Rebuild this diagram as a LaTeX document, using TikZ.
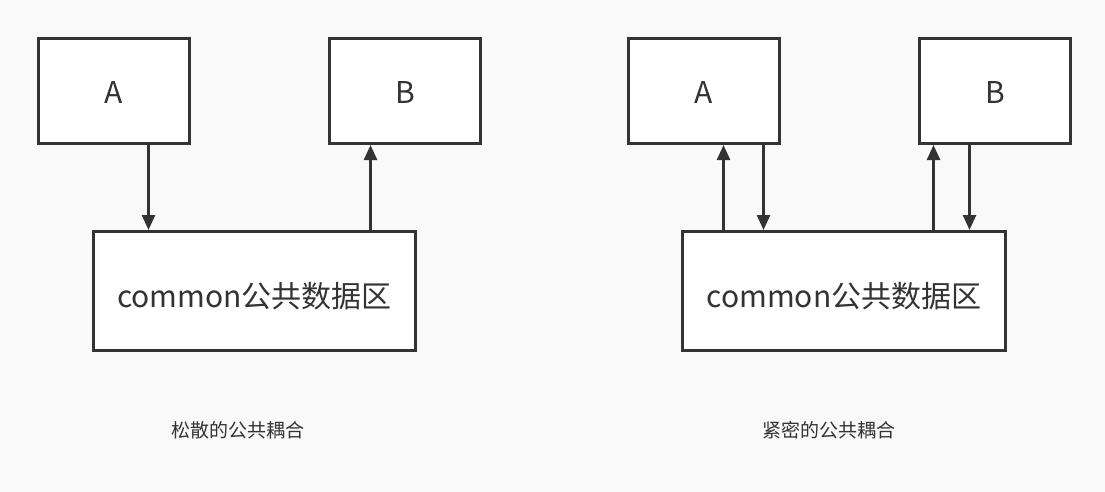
\documentclass[tikz,border=0pt]{standalone}
\usepackage{fontspec}
\setmainfont{Noto Sans CJK SC}
\usetikzlibrary{arrows.meta}
\definecolor{bgcol}{HTML}{F9F9F9}
\definecolor{ink}{HTML}{333333}
\newcommand{\lowered}[2]{\raisebox{-#1}[\height][\depth]{#2}}
\tikzset{
  box/.style={draw=ink, fill=white, line width=3pt, text=ink, font=\fontsize{30}{34}\selectfont, anchor=north west, inner sep=0pt},
  link/.style={draw=ink, line width=2.5pt, -{Triangle[length=15pt, width=13pt]}},
  caption/.style={text=ink, font=\fontsize{19}{22}\selectfont}
}
\begin{document}
\begin{tikzpicture}[x=1pt, y=-1pt]
\fill[bgcol] (0,0) rectangle (1105,492);
\useasboundingbox (0,0) rectangle (1105,492);
% loose coupling
\node[box, minimum width=151pt, minimum height=105pt] (A1) at (37,37) {\lowered{2pt}{A}};
\node[box, minimum width=151pt, minimum height=105pt] (B1) at (328,37) {\lowered{2pt}{B}};
\node[box, minimum width=322pt, minimum height=119pt] (com1) at (92,230) {\lowered{5pt}{common公共数据区}};
\draw[link] ([xshift=34.5pt]A1.south) -- ([xshift=34.5pt]A1.south |- com1.north);
\draw[link] ([xshift=-34.5pt]B1.south |- com1.north) -- ([xshift=-34.5pt]B1.south);
\node[caption] (cap1) at (238,430) {松散的公共耦合};
% tight coupling
\node[box, minimum width=151pt, minimum height=105pt] (A2) at (627,37) {\lowered{2pt}{A}};
\node[box, minimum width=151pt, minimum height=105pt] (B2) at (918,37) {\lowered{2pt}{B}};
\node[box, minimum width=323pt, minimum height=119pt] (com2) at (681,230) {\lowered{5pt}{common公共数据区}};
\draw[link] ([xshift=19.5pt]A2.south |- com2.north) -- ([xshift=19.5pt]A2.south);
\draw[link] ([xshift=59.5pt]A2.south) -- ([xshift=59.5pt]A2.south |- com2.north);
\draw[link] ([xshift=-61.5pt]B2.south |- com2.north) -- ([xshift=-61.5pt]B2.south);
\draw[link] ([xshift=-25.5pt]B2.south) -- ([xshift=-25.5pt]B2.south |- com2.north);
\node[caption] (cap2) at (829,430) {紧密的公共耦合};
\end{tikzpicture}
\end{document}
